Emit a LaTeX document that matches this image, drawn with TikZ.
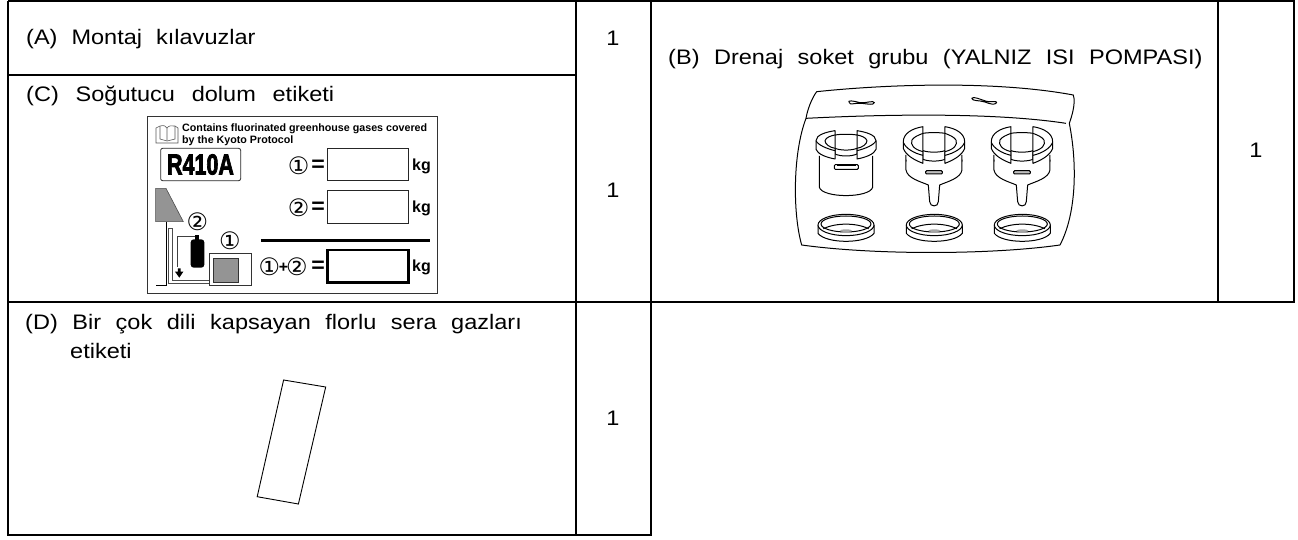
\documentclass[tikz,border=0pt]{standalone}
\usepackage{fontspec}
\setmainfont{Liberation Sans}
\newfontfamily\djv{DejaVu Sans}
\newfontfamily\heavy[BoldFeatures={FakeBold=3}]{Liberation Sans}
\tikzset{
 tabletext/.style={anchor=base west,inner sep=0pt,xscale=1.12,font=\fontsize{21}{25}\selectfont},
 qty/.style={inner sep=0pt,xscale=1.12,font=\fontsize{21}{25}\selectfont},
 lab/.style={anchor=base west,inner sep=0pt,font=\bfseries\fontsize{10.7}{12}\selectfont},
 kgt/.style={inner sep=0pt,font=\bfseries\fontsize{16}{18}\selectfont},
 eqt/.style={inner sep=0pt,xscale=1.05,font=\bfseries\fontsize{22}{24}\selectfont},
 circ/.style={inner sep=0pt,font=\djv\fontsize{24}{26}\selectfont},
 rule/.style={line width=2pt,black},
 thin line/.style={line width=.9pt,black},
 art/.style={line width=1pt,black,line join=round},
}
\newcommand{\socketbody}[1]{%
 \begin{scope}[shift={(#1,0)}]
 \draw[art,fill=white] (-80,228) -- (-80,322) .. controls (-70,355) and (70,355) .. (80,322) -- (80,228);
 \draw[art,fill=white] (-33,165) .. controls (-15,162) and (15,162) .. (33,165) -- (33,222) .. controls (15,230) and (-15,230) .. (-33,222) -- cycle;
 \draw[art] (-33,205) .. controls (-15,212) and (15,212) .. (33,205);
 \foreach \s in {1,-1}{
 \begin{scope}[xscale=\s]
 \draw[art,fill=white] (-33,152) .. controls (-60,156) and (-90,165) .. (-90,182) -- (-90,208) .. controls (-85,222) and (-60,232) .. (-33,237) -- (-33,205) .. controls (-50,202) and (-63,192) .. (-63,182) .. controls (-60,172) and (-45,167) .. (-33,165) -- cycle;
 \draw[art] (-90,182) .. controls (-85,195) and (-55,207) .. (-33,212);
 \end{scope}}
 \draw[art,rounded corners=1pt] (-35,254) rectangle (37,268);
 \draw[art] (-27,258) -- (29,258);
 \end{scope}}
\newcommand{\socketfunnel}[1]{%
 \begin{scope}[shift={(#1,0)}]
 \draw[art,fill=white] (-84,225) -- (-84,270) .. controls (-80,295) and (-40,305) .. (-17,315) -- (-13,365) .. controls (-12,382) and (13,382) .. (13,365) -- (17,315) .. controls (40,305) and (80,295) .. (84,270) -- (84,225);
 \draw[art,fill=white] (-33,160) .. controls (-15,157) and (15,157) .. (33,160) -- (33,238) .. controls (15,245) and (-15,245) .. (-33,238) -- cycle;
 \draw[art] (-33,212) .. controls (-15,218) and (15,218) .. (33,212);
 \foreach \s in {1,-1}{
 \begin{scope}[xscale=\s]
 \draw[art,fill=white] (-33,140) .. controls (-65,145) and (-92,160) .. (-92,185) -- (-92,205) .. controls (-85,225) and (-60,240) .. (-33,250) -- (-33,215) .. controls (-60,208) and (-72,195) .. (-66,180) .. controls (-60,170) and (-45,165) .. (-33,160) -- cycle;
 \draw[art] (-92,187) .. controls (-85,205) and (-60,220) .. (-33,226);
 \fill[black!70] (-84,242) ellipse [x radius=3,y radius=5];
 \end{scope}}
 \draw[art,fill=black!25,rounded corners=1pt] (-25,272) rectangle (25,282);
 \end{scope}}
\newcommand{\basering}[1]{%
 \begin{scope}[shift={(#1,0)}]
 \draw[art,fill=white] (-84,435) -- (-84,460) .. controls (-60,492) and (60,492) .. (84,460) -- (84,435);
 \draw[art,fill=white] (0,435) ellipse [x radius=84,y radius=32];
 \draw[art] (0,432) ellipse [x radius=75,y radius=24];
 \draw[art] (-68,446) .. controls (-30,428) and (30,428) .. (68,446);
 \fill[black!35] (0,452) ellipse [x radius=18,y radius=4];
 \end{scope}}
\begin{document}
\begin{tikzpicture}[x=1pt,y=-1pt]
\useasboundingbox (0,0) rectangle (1298,539);
% table rules
\draw[rule] (8,1) -- (8,535) -- (652,535);
\draw[rule] (8,1) -- (1294,1) -- (1294,302) -- (8,302);
\draw[rule] (8,74.5) -- (575.5,74.5);
\draw[rule] (575.5,1) -- (575.5,535);
\draw[rule] (651,1) -- (651,535);
\draw[rule] (1218,1) -- (1218,302);
% table text
\node[tabletext] (a) at (26,44) {\spaceskip=12.5pt (A) Montaj kılavuzlar};
\node[tabletext] (c) at (26,101) {\spaceskip=15pt (C) Soğutucu dolum etiketi};
\node[tabletext] (b) at (668,64) {\spaceskip=12.9pt (B) Drenaj soket grubu (YALNIZ ISI POMPASI)};
\node[tabletext] (d) at (25,329) {\spaceskip=13pt (D) Bir çok dili kapsayan florlu sera gazları};
\node[tabletext] (d2) at (70,358) {etiketi};
\node[qty] (qa) at (613,38) {1};
\node[qty] (qc) at (613,190) {1};
\node[qty] (qd) at (613,418) {1};
\node[qty] (qb) at (1256,150) {1};
% label C
\draw[line width=.8pt,black!80] (147,116) rectangle (437,293);
\node[lab] (l1) at (182,131.7) {Contains fluorinated greenhouse gases covered};
\node[lab] (l2) at (182,143.3) {by the Kyoto Protocol};
% book icon
\draw[line width=.6pt,black!65,fill=white] (156,143) -- (156,128) -- (160,126) .. controls (164,125) and (166,126) .. (167,128) .. controls (168,126) and (172,125) .. (175,126) -- (178,128) -- (178,143) -- cycle;
\draw[line width=.6pt,black!65] (167,128) -- (167,140) (160,126) -- (160,139) -- (167,141) -- (175,139) -- (175,126);
\node[inner sep=0pt,xscale=.74,font=\heavy\bfseries\fontsize{29}{30}\selectfont] (r) at (200.5,164.5) {R410A};
\begin{scope}[shift={(140,130)},x=.3333pt,y=-.3333pt]
 \draw[line width=.8pt,black!85,rounded corners=2pt] (62,55) rectangle (302,152);
 \draw[line width=.8pt,black!85] (563,56) rectangle (805,152);
 \draw[line width=.8pt,black!85] (563,182) rectangle (805,280);
 \draw[line width=2.6pt,black] (562,360) rectangle (805,457);
 \draw[line width=3pt,black] (363,331) -- (870,331);
 % plant sketch
 \draw[line width=.6pt,black!70,fill=black!42] (47,175) -- (78,175) -- (130,275) -- (47,275) -- cycle;
 \draw[line width=.9pt,black] (80,275) -- (80,465) -- (47,465);
 \draw[line width=.6pt,black!70] (85,295) -- (97,295) -- (97,450) -- (208,450);
 \draw[line width=.6pt,black!70] (85,295) -- (85,460) -- (208,460);
 \draw[line width=1.6pt,black!75] (172,320) -- (113,320) -- (113,412);
 \fill[black,rounded corners=3pt] (152,328) rectangle (193,413);
 \fill[black] (166,314) rectangle (178,330);
 \fill[black] (114,415) rectangle (122,425) (105,425) -- (130,425) -- (118,443) -- cycle;
 \draw[line width=.8pt,black!80,fill=white] (208,369) rectangle (335,465);
 \draw[line width=1pt,black!80,fill=black!42] (220,386) rectangle (297,457);
\end{scope}
\node[circ] (c1) at (298.7,165.5) {①};
\node[circ] (c2) at (298.7,207.5) {②};
\node[eqt] (e1) at (318,165.5) {=};
\node[eqt] (e2) at (318,208) {=};
\node[kgt] (k1) at (421.5,166) {kg};
\node[kgt] (k2) at (421.5,208) {kg};
\node[kgt] (k3) at (421.5,267.5) {kg};
\node[circ] (c3) at (269.5,267) {①};
\node[kgt] (pl) at (283.5,267.5) {+};
\node[circ] (c4) at (297,267) {②};
\node[eqt] (e3) at (318,267) {=};
\node[circ] (c5) at (197.3,221.5) {②};
\node[circ] (c6) at (230,240.5) {①};
% rotated label D
\draw[thin line] (283.6,380) -- (325.7,387) -- (298.4,504) -- (257.2,496.7) -- cycle;
% bag B
\begin{scope}[shift={(790,80)},x=.3333pt,y=-.3333pt]
 \draw[art] (80,35) .. controls (300,12) and (620,2) .. (850,45) .. controls (858,70) and (845,110) .. (838,130) .. controls (862,250) and (860,400) .. (810,495) .. controls (600,525) and (250,525) .. (35,495) .. controls (8,400) and (8,220) .. (48,115) .. controls (52,90) and (65,55) .. (80,35);
 \draw[art] (48,115) .. controls (300,102) and (620,98) .. (828,130);
 \draw[art] (178,68) .. controls (170,60) and (190,62) .. (210,68) .. controls (230,70) and (250,60) .. (253,68) .. controls (250,76) and (235,72) .. (215,70) .. controls (195,68) and (180,76) .. (178,68);
 \draw[art] (545,55) .. controls (550,48) and (570,58) .. (590,64) .. controls (605,68) and (620,60) .. (620,68) .. controls (615,76) and (600,72) .. (585,66) .. controls (565,60) and (548,64) .. (545,55);
 \socketbody{168}
 \socketfunnel{432}
 \socketfunnel{696}
 \basering{168}
 \basering{433}
 \basering{697}
\end{scope}
\end{tikzpicture}
\end{document}
